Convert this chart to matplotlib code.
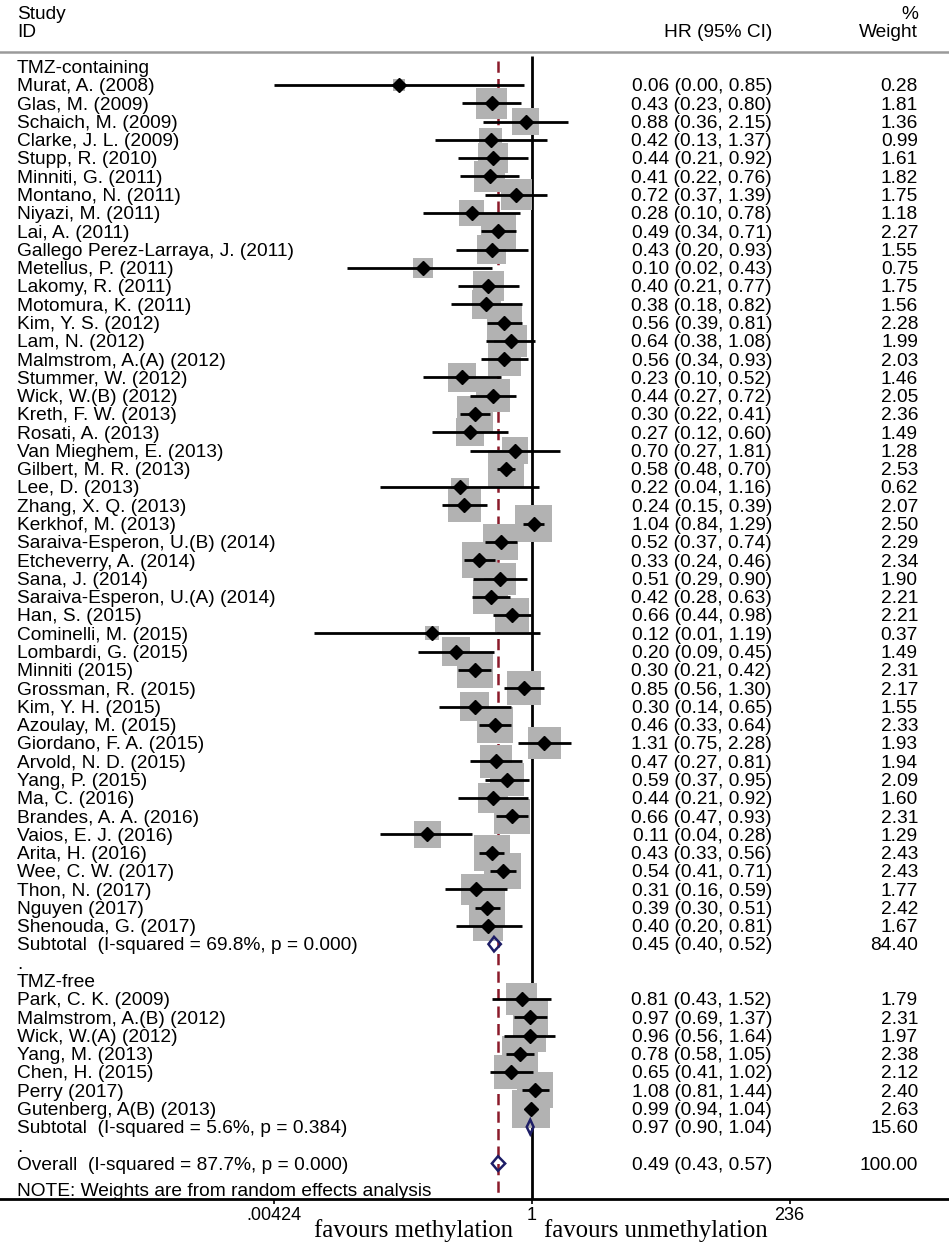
import numpy as np
import matplotlib
matplotlib.use("Agg")
import matplotlib.pyplot as plt
from matplotlib.patches import Polygon

plt.rcParams['font.family'] = ['Liberation Sans', 'DejaVu Sans']

# ---------------- data ----------------
group_labels = ["TMZ-containing", "TMZ-free"]

studies_tmz = [
    "Murat, A. (2008)", "Glas, M. (2009)", "Schaich, M. (2009)", "Clarke, J. L. (2009)",
    "Stupp, R. (2010)", "Minniti, G. (2011)", "Montano, N. (2011)", "Niyazi, M. (2011)",
    "Lai, A. (2011)", "Gallego Perez-Larraya, J. (2011)", "Metellus, P. (2011)",
    "Lakomy, R. (2011)", "Motomura, K. (2011)", "Kim, Y. S. (2012)", "Lam, N. (2012)",
    "Malmstrom, A.(A) (2012)", "Stummer, W. (2012)", "Wick, W.(B) (2012)",
    "Kreth, F. W. (2013)", "Rosati, A. (2013)", "Van Mieghem, E. (2013)",
    "Gilbert, M. R. (2013)", "Lee, D. (2013)", "Zhang, X. Q. (2013)", "Kerkhof, M. (2013)",
    "Saraiva-Esperon, U.(B) (2014)", "Etcheverry, A. (2014)", "Sana, J. (2014)",
    "Saraiva-Esperon, U.(A) (2014)", "Han, S. (2015)", "Cominelli, M. (2015)",
    "Lombardi, G. (2015)", "Minniti (2015)", "Grossman, R. (2015)", "Kim, Y. H. (2015)",
    "Azoulay, M. (2015)", "Giordano, F. A. (2015)", "Arvold, N. D. (2015)",
    "Yang, P. (2015)", "Ma, C. (2016)", "Brandes, A. A. (2016)", "Vaios, E. J. (2016)",
    "Arita, H. (2016)", "Wee, C. W. (2017)", "Thon, N. (2017)", "Nguyen (2017)",
    "Shenouda, G. (2017)",
]
hr_tmz = [0.06, 0.43, 0.88, 0.42, 0.44, 0.41, 0.72, 0.28, 0.49, 0.43, 0.10, 0.40, 0.38,
          0.56, 0.64, 0.56, 0.23, 0.44, 0.30, 0.27, 0.70, 0.58, 0.22, 0.24, 1.04, 0.52,
          0.33, 0.51, 0.42, 0.66, 0.12, 0.20, 0.30, 0.85, 0.30, 0.46, 1.31, 0.47, 0.59,
          0.44, 0.66, 0.11, 0.43, 0.54, 0.31, 0.39, 0.40]
lo_tmz = [0.00424, 0.23, 0.36, 0.13, 0.21, 0.22, 0.37, 0.10, 0.34, 0.20, 0.02, 0.21, 0.18,
          0.39, 0.38, 0.34, 0.10, 0.27, 0.22, 0.12, 0.27, 0.48, 0.04, 0.15, 0.84, 0.37,
          0.24, 0.29, 0.28, 0.44, 0.01, 0.09, 0.21, 0.56, 0.14, 0.33, 0.75, 0.27, 0.37,
          0.21, 0.47, 0.04, 0.33, 0.41, 0.16, 0.30, 0.20]
hi_tmz = [0.85, 0.80, 2.15, 1.37, 0.92, 0.76, 1.39, 0.78, 0.71, 0.93, 0.43, 0.77, 0.82,
          0.81, 1.08, 0.93, 0.52, 0.72, 0.41, 0.60, 1.81, 0.70, 1.16, 0.39, 1.29, 0.74,
          0.46, 0.90, 0.63, 0.98, 1.19, 0.45, 0.42, 1.30, 0.65, 0.64, 2.28, 0.81, 0.95,
          0.92, 0.93, 0.28, 0.56, 0.71, 0.59, 0.51, 0.81]
w_tmz = [0.28, 1.81, 1.36, 0.99, 1.61, 1.82, 1.75, 1.18, 2.27, 1.55, 0.75, 1.75, 1.56,
         2.28, 1.99, 2.03, 1.46, 2.05, 2.36, 1.49, 1.28, 2.53, 0.62, 2.07, 2.50, 2.29,
         2.34, 1.90, 2.21, 2.21, 0.37, 1.49, 2.31, 2.17, 1.55, 2.33, 1.93, 1.94, 2.09,
         1.60, 2.31, 1.29, 2.43, 2.43, 1.77, 2.42, 1.67]

studies_free = ["Park, C. K. (2009)", "Malmstrom, A.(B) (2012)", "Wick, W.(A) (2012)",
                "Yang, M. (2013)", "Chen, H. (2015)", "Perry (2017)", "Gutenberg, A(B) (2013)"]
hr_free = [0.81, 0.97, 0.96, 0.78, 0.65, 1.08, 0.99]
lo_free = [0.43, 0.69, 0.56, 0.58, 0.41, 0.81, 0.94]
hi_free = [1.52, 1.37, 1.64, 1.05, 1.02, 1.44, 1.04]
w_free = [1.79, 2.31, 1.97, 2.38, 2.12, 2.40, 2.63]

sub_hr = [0.45, 0.97]
sub_lo = [0.40, 0.90]
sub_hi = [0.52, 1.04]
sub_w = [84.40, 15.60]
sub_i2 = [69.8, 5.6]
sub_p = [0.000, 0.384]

overall_hr, overall_lo, overall_hi, overall_w = 0.49, 0.43, 0.57, 100.00
overall_i2, overall_p = 87.7, 0.000

tick_values = [0.00424, 1, 236]
tick_labels = [".00424", "1", "236"]

# ---------------- layout ----------------
W, H = 949, 1251
fig = plt.figure(figsize=(W / 100, H / 100), dpi=100)
axis_px = 1199
ax = fig.add_axes([0, (H - axis_px) / H, 1, axis_px / H])
ax.set_xscale("log")
px_per_dec = 108.7
one_px = 531.7
ax.set_xlim(10 ** (-one_px / px_per_dec), 10 ** ((W - one_px) / px_per_dec))
row0_px = 66.7
row_h = 18.28
ax.set_ylim((axis_px - row0_px) / row_h, -row0_px / row_h)

for s in ["top", "left", "right"]:
    ax.spines[s].set_visible(False)
ax.spines["bottom"].set_linewidth(2.0)
ax.set_yticks([])
ax.set_xticks(tick_values)
ax.set_xticklabels(tick_labels, fontsize=13)
ax.minorticks_off()
ax.tick_params(axis="x", length=3.5, width=1.2, pad=2)

tr = ax.get_yaxis_transform()
FS = 13.8
TY = 0.1  # small vertical text offset (rows) to sit text on the row centre
x_name = 17 / W
x_hr = 772 / W
x_wt = 918 / W


def put(x, y, s, **kw):
    ax.text(x, y + TY, s, transform=tr, fontsize=FS, va="center", **kw)


# header
put(x_name, -2.93, "Study", ha="left")
put(x_name, -1.95, "ID", ha="left")
put(x_hr, -1.95, "HR (95% CI)", ha="right")
put(x_wt, -2.93, "%", ha="right")
put(x_wt, -1.95, "Weight", ha="right")
ax.axhline(-0.8, color="#9a9a9a", lw=1.8, clip_on=False)

# reference lines
bottom_row = (axis_px - row0_px) / row_h
ax.plot([1, 1], [-0.6, bottom_row], color="black", lw=2.0, zorder=1, solid_capstyle="butt")
ax.plot([overall_hr, overall_hr], [-0.3, bottom_row], color="#8b1a2a", lw=1.8,
        dashes=(4.5, 2.5), zorder=1)

groups = [
    (studies_tmz, hr_tmz, lo_tmz, hi_tmz, w_tmz),
    (studies_free, hr_free, lo_free, hi_free, w_free),
]

row = 0
diamond_h = 0.4
navy = "#1d1d66"
for g, (names, hr, lo, hi, w) in enumerate(groups):
    put(x_name, row, group_labels[g], ha="left")
    row += 1
    rows = np.arange(row, row + len(names))
    ax.scatter(hr, rows, s=np.array(w) * 280, marker="s", color="#b2b2b2",
               edgecolors="none", zorder=2)
    ax.hlines(rows, lo, hi, color="black", lw=2.0, zorder=3)
    ax.plot(hr, rows, "D", color="black", ms=6.8, zorder=4)
    for r, n, h, l, u, ww in zip(rows, names, hr, lo, hi, w):
        put(x_name, r, n, ha="left")
        put(x_hr, r, f"{h:.2f} ({l:.2f}, {u:.2f})", ha="right")
        put(x_wt, r, f"{ww:.2f}", ha="right")
    row += len(names)
    # subtotal
    ax.add_patch(Polygon([(sub_lo[g], row), (sub_hr[g], row - diamond_h),
                          (sub_hi[g], row), (sub_hr[g], row + diamond_h)],
                         closed=True, fill=False, edgecolor=navy, lw=1.8, zorder=5))
    put(x_name, row, f"Subtotal  (I-squared = {sub_i2[g]:.1f}%, p = {sub_p[g]:.3f})",
        ha="left")
    put(x_hr, row, f"{sub_hr[g]:.2f} ({sub_lo[g]:.2f}, {sub_hi[g]:.2f})", ha="right")
    put(x_wt, row, f"{sub_w[g]:.2f}", ha="right")
    row += 1
    put(x_name, row, ".", ha="left")
    row += 1

# overall
ax.add_patch(Polygon([(overall_lo, row), (overall_hr, row - diamond_h),
                      (overall_hi, row), (overall_hr, row + diamond_h)],
                     closed=True, fill=False, edgecolor=navy, lw=1.8, zorder=5))
put(x_name, row, f"Overall  (I-squared = {overall_i2:.1f}%, p = {overall_p:.3f})",
    ha="left")
put(x_hr, row, f"{overall_hr:.2f} ({overall_lo:.2f}, {overall_hi:.2f})", ha="right")
put(x_wt, row, f"{overall_w:.2f}", ha="right")

ax.text(x_name, (1196 - row0_px) / row_h, "NOTE: Weights are from random effects analysis",
        transform=tr, fontsize=FS, va="baseline")

fig.text(414 / W, 1 - 1231 / H, "favours methylation", family=["Liberation Serif"],
         fontsize=17.8, ha="center", va="center")
fig.text(656 / W, 1 - 1231 / H, "favours unmethylation", family=["Liberation Serif"],
         fontsize=17.8, ha="center", va="center")

fig.savefig("out.png", dpi=100)
